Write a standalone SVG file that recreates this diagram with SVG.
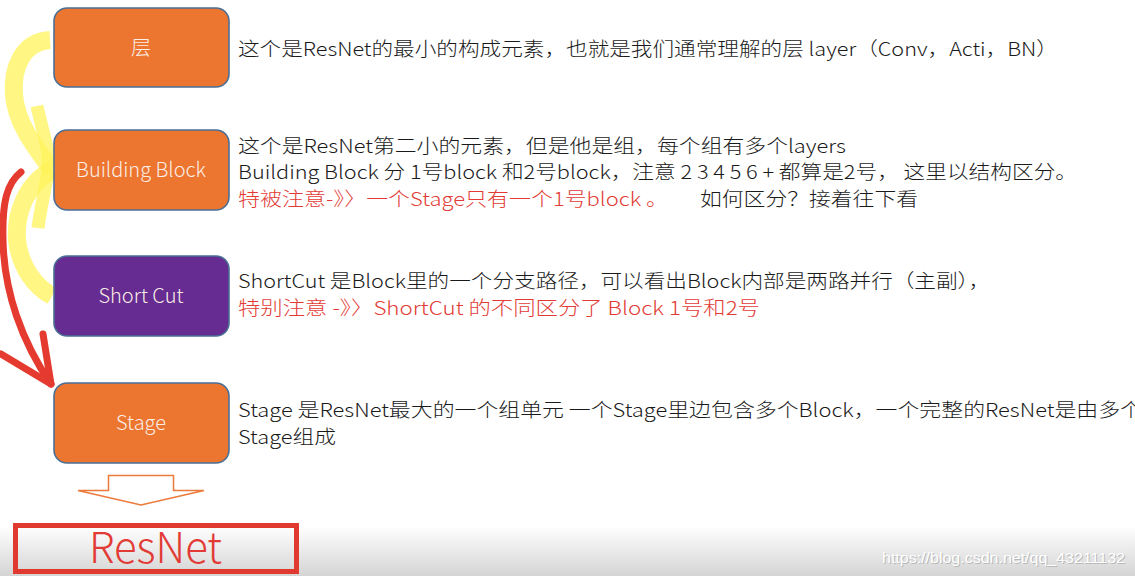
<svg xmlns="http://www.w3.org/2000/svg" width="1135" height="576" viewBox="0 0 1135 576">
<defs>
<linearGradient id="bottomFade" x1="0" y1="0" x2="0" y2="1">
<stop offset="0" stop-color="#ffffff"/>
<stop offset="1" stop-color="#d4d4d4"/>
</linearGradient>
</defs>
<style>
.box{stroke:#4a6f96;stroke-width:1.6}
.orange{fill:#ec7530}
.purple{fill:#662c91}
.blabel{font-family:"Noto Sans CJK SC","Noto Sans",sans-serif;font-size:20px;font-weight:300;fill:#fbeee6;text-anchor:middle}
.t{font-family:"Noto Sans CJK SC","Noto Sans",sans-serif;font-size:19px;font-weight:300;fill:#1a1a1a}
.r{fill:#e23b35}
.hl{fill:none;stroke:#fff35a;stroke-opacity:0.75;stroke-linecap:butt}
.red{fill:none;stroke:#e53a2f;stroke-width:7;stroke-linecap:round;stroke-linejoin:round}
.wm{font-family:"Liberation Sans",sans-serif;font-size:15px}
</style>
<rect x="0" y="0" width="1135" height="576" fill="#ffffff"/>
<rect x="0" y="526" width="1135" height="50" fill="url(#bottomFade)"/>

<g id="annotations">
<path class="hl" stroke-width="18" d="M50,40 C22,42 12,68 14,95 C16,122 34,146 52,170"/>
<path class="hl" stroke-width="13" d="M37,106 C42,130 50,150 48,170 C45,192 40,210 38,228"/>
<path class="hl" stroke-width="18" d="M52,170 C26,184 15,214 17,240 C20,266 34,286 52,296"/>
<path class="red" d="M21,172 C7,183 2,202 3,240 C4,292 22,342 51,384"/>
<path class="red" d="M1,354 L51,384 M43,334 L51,384"/>
</g>

<g id="node-layer">
<rect class="box orange" x="54" y="8" width="175" height="79" rx="13"/>
<text class="blabel" x="141" y="55">层</text>
</g>
<g id="node-building-block">
<rect class="box orange" x="54" y="130" width="175" height="80" rx="13"/>
<text class="blabel" x="141" y="177">Building Block</text>
</g>
<g id="node-shortcut">
<rect class="box purple" x="54" y="256" width="175" height="80" rx="13"/>
<text class="blabel" x="141" y="303">Short Cut</text>
</g>
<g id="node-stage">
<rect class="box orange" x="54" y="383" width="175" height="80" rx="13"/>
<text class="blabel" x="141" y="430">Stage</text>
</g>

<g id="connectors">
<path d="M108.5,475.5 H173.5 V490.5 H204 L141,505 L78,490.5 H108.5 Z" fill="#ffffff" stroke="#ec7a3a" stroke-width="1.5"/>
</g>

<g id="node-resnet">
<rect x="15.5" y="525.5" width="281" height="46" fill="none" stroke="#e03a30" stroke-width="5"/>
<text x="89" y="563" font-family="Noto Sans CJK SC, Noto Sans, sans-serif" font-size="43" font-weight="300" fill="#e23b35" textLength="133" lengthAdjust="spacingAndGlyphs">ResNet</text>
</g>

<g id="descriptions">
<text class="t" x="238" y="56" textLength="820" lengthAdjust="spacingAndGlyphs">这个是ResNet的最小的构成元素，也就是我们通常理解的层 layer（Conv，Acti，BN）</text>

<text class="t" x="238" y="153" textLength="608" lengthAdjust="spacingAndGlyphs">这个是ResNet第二小的元素，但是他是组，每个组有多个layers</text>
<text class="t" x="238" y="179" textLength="839" lengthAdjust="spacingAndGlyphs">Building Block 分 1号block 和2号block，注意 2 3 4 5 6 + 都算是2号， 这里以结构区分。</text>
<text class="t r" x="238" y="206" textLength="430" lengthAdjust="spacingAndGlyphs">特被注意-》〉一个Stage只有一个1号block 。</text>
<text class="t" x="700" y="206" textLength="218" lengthAdjust="spacingAndGlyphs">如何区分？接着往下看</text>

<text class="t" x="238" y="288" textLength="752" lengthAdjust="spacingAndGlyphs">ShortCut 是Block里的一个分支路径，可以看出Block内部是两路并行（主副），</text>
<text class="t r" x="238" y="315" textLength="522" lengthAdjust="spacingAndGlyphs">特别注意 -》〉ShortCut 的不同区分了 Block 1号和2号</text>

<text class="t" x="238" y="417" textLength="904" lengthAdjust="spacingAndGlyphs">Stage 是ResNet最大的一个组单元 一个Stage里边包含多个Block，一个完整的ResNet是由多个</text>
<text class="t" x="238" y="444" textLength="98" lengthAdjust="spacingAndGlyphs">Stage组成</text>
</g>

<g id="watermark">
<text class="wm" x="883" y="564" fill="#b8b8b8" textLength="243" lengthAdjust="spacingAndGlyphs">https://blog.csdn.net/qq_43211132</text>
<text class="wm" x="882" y="563" fill="#ffffff" textLength="243" lengthAdjust="spacingAndGlyphs">https://blog.csdn.net/qq_43211132</text>
</g>
</svg>
